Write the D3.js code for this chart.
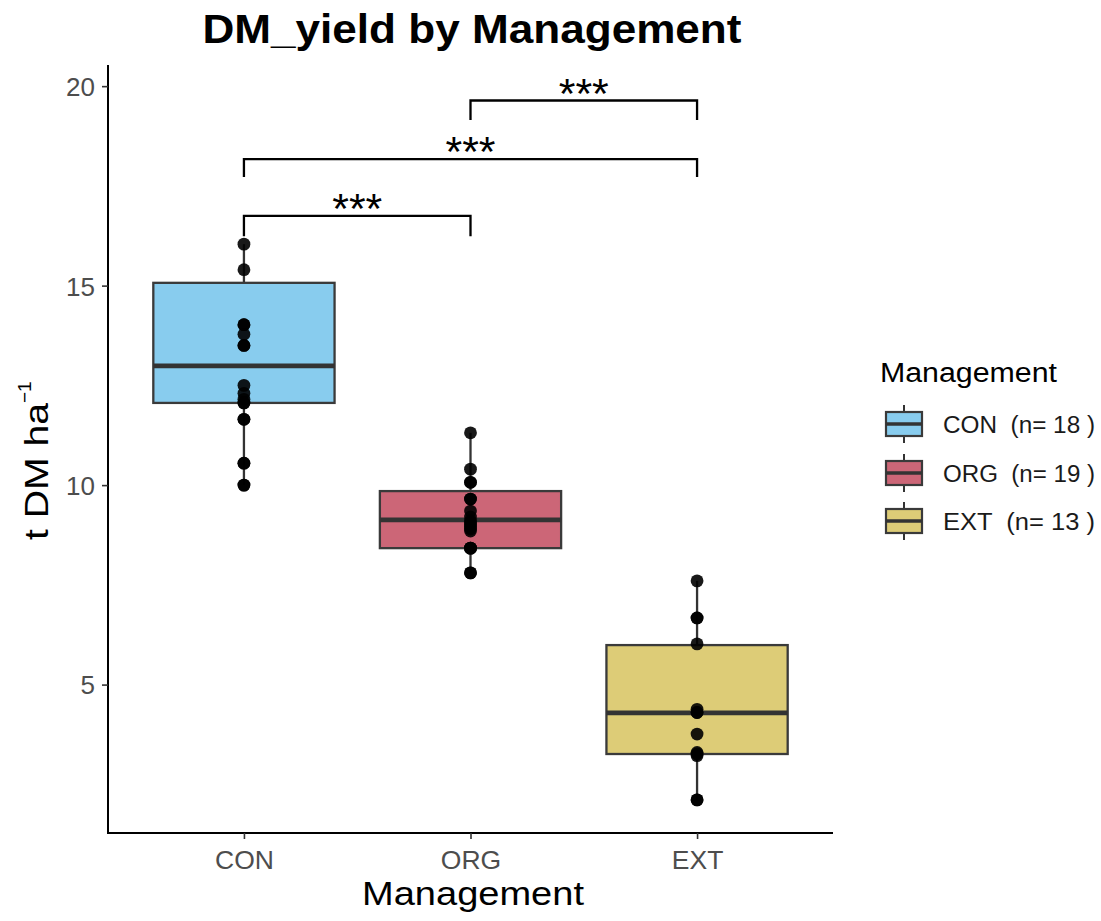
<!DOCTYPE html>
<html>
<head>
<meta charset="utf-8">
<script src="https://cdn.jsdelivr.net/npm/d3@7"></script>
<style>
  html, body { margin: 0; padding: 0; background: #fff; }
  text { font-family: "Liberation Sans", Arial, sans-serif; }
</style>
</head>
<body>
<svg id="chart" width="1101" height="921"></svg>
<script>
// ---------------- data ----------------
const categories = ["CON", "ORG", "EXT"];
const counts = [18, 19, 13];
const colors = ["#88CCEE", "#CC6677", "#DDCC77"];

// box summary: [lowerWhisker, Q1, median, Q3, upperWhisker]
const boxCON = [10.0, 12.06, 12.99, 15.07, 16.04];
const boxORG = [7.80, 8.42, 9.13, 9.85, 11.31];
const boxEXT = [2.11, 3.26, 4.29, 5.99, 7.60];

// individual observations
const pointsCON = [16.04, 15.40, 14.02, 14.02, 13.78, 13.50, 13.50, 12.50, 12.30, 12.15, 12.06, 12.06, 11.65, 11.65, 10.55, 10.55, 10.0, 10.0];
const pointsORG = [11.31, 10.40, 10.07, 10.07, 9.65, 9.65, 9.35, 9.20, 9.10, 9.05, 9.00, 8.95, 8.90, 8.85, 8.42, 8.42, 8.42, 7.80, 7.80];
const pointsEXT = [7.60, 6.67, 6.02, 4.38, 4.30, 4.30, 3.76, 3.30, 3.26, 3.22, 2.11, 2.11, 6.67];

// significance brackets
const bracketFrom = ["CON", "CON", "ORG"];
const bracketTo = ["ORG", "EXT", "EXT"];
const bracketY = [16.75, 18.17, 19.64];
const bracketTipL = [16.24, 17.72, 19.15];
const bracketTipR = [16.24, 17.72, 19.15];
const bracketLabel = ["***", "***", "***"];

const yTicks = [5, 10, 15, 20];

// ---------------- layout ----------------
const svg = d3.select("#chart");
const pLeft = 108, pRight = 833, pTop = 65, pBottom = 833;

const x = d3.scaleLinear().domain([-0.6, categories.length - 0.4]).range([pLeft, pRight]);
const xc = c => x(categories.indexOf(c));
const y = d3.scaleLinear().domain([1.28, 20.53]).range([pBottom, pTop]);

const boxes = [boxCON, boxORG, boxEXT];
const points = [pointsCON, pointsORG, pointsEXT];
const boxHalf = (x(0.4) - x(0));

// axes
const yAxis = d3.axisLeft(y).tickValues(yTicks).tickSize(6).tickPadding(7);
const gy = svg.append("g").attr("transform", `translate(${pLeft},0)`).call(yAxis);
gy.select(".domain").attr("stroke", "#000").attr("stroke-width", 2).attr("d", `M0,${pTop}V${pBottom}`);
gy.selectAll(".tick line").attr("stroke", "#333").attr("stroke-width", 1.6);
gy.selectAll(".tick text").attr("fill", "#4d4d4d").style("font-size", "26px")
  .style("font-family", "Liberation Sans, Arial, sans-serif").attr("dy", "0.36em");

const xAxis = d3.axisBottom(x).tickValues(categories.map((d, i) => i)).tickFormat(i => categories[i]).tickSize(6).tickPadding(11);
const gx = svg.append("g").attr("transform", `translate(0,${pBottom})`).call(xAxis);
gx.select(".domain").attr("stroke", "#000").attr("stroke-width", 2).attr("d", `M${pLeft - 1},0H${pRight}`);
gx.selectAll(".tick line").attr("stroke", "#333").attr("stroke-width", 1.6);
gx.selectAll(".tick text").attr("fill", "#4d4d4d").style("font-size", "26.5px")
  .style("font-family", "Liberation Sans, Arial, sans-serif");

// boxes
const gb = svg.append("g");
categories.forEach((c, i) => {
  const b = boxes[i];
  const cx = x(i);
  gb.append("line").attr("x1", cx).attr("x2", cx).attr("y1", y(b[0])).attr("y2", y(b[1]))
    .attr("stroke", "#333").attr("stroke-width", 2.3);
  gb.append("line").attr("x1", cx).attr("x2", cx).attr("y1", y(b[3])).attr("y2", y(b[4]))
    .attr("stroke", "#333").attr("stroke-width", 2.3);
  gb.append("rect").attr("x", cx - boxHalf).attr("width", 2 * boxHalf)
    .attr("y", y(b[3])).attr("height", y(b[1]) - y(b[3]))
    .attr("fill", colors[i]).attr("stroke", "#3a3a3a").attr("stroke-width", 2.3);
  gb.append("line").attr("x1", cx - boxHalf).attr("x2", cx + boxHalf).attr("y1", y(b[2])).attr("y2", y(b[2]))
    .attr("stroke", "#333").attr("stroke-width", 4.8);
  points[i].forEach(v => {
    gb.append("circle").attr("cx", cx).attr("cy", y(v)).attr("r", 6.4)
      .attr("fill", "#000").attr("fill-opacity", 0.9);
  });
});

// brackets
const gs = svg.append("g");
bracketFrom.forEach((f, i) => {
  const x1 = xc(f), x2 = xc(bracketTo[i]);
  gs.append("path")
    .attr("d", `M${x1},${y(bracketTipL[i])}V${y(bracketY[i])}H${x2}V${y(bracketTipR[i])}`)
    .attr("fill", "none").attr("stroke", "#000").attr("stroke-width", 2.3);
  gs.append("text").attr("x", (x1 + x2) / 2).attr("y", y(bracketY[i]) + 7)
    .attr("text-anchor", "middle").style("font-size", "43px").attr("fill", "#000")
    .attr("textLength", 50).attr("lengthAdjust", "spacingAndGlyphs")
    .text(bracketLabel[i]);
});

// title
svg.append("text").attr("x", 472).attr("y", 43).attr("text-anchor", "middle")
  .style("font-size", "40px").style("font-weight", "bold")
  .attr("textLength", 539).attr("lengthAdjust", "spacingAndGlyphs")
  .text("DM_yield by Management");

// axis titles
svg.append("text").attr("x", 473).attr("y", 905).attr("text-anchor", "middle")
  .style("font-size", "33px").attr("textLength", 222).attr("lengthAdjust", "spacingAndGlyphs")
  .text("Management");

const yt = svg.append("text").attr("transform", `translate(48,540) rotate(-90)`)
  .attr("text-anchor", "start");
yt.append("tspan").style("font-size", "33px").attr("textLength", 137).attr("lengthAdjust", "spacingAndGlyphs").text("t DM ha");
yt.append("tspan").attr("dy", -17).style("font-size", "19px").text("\u22121");

// legend
const lg = svg.append("g");
lg.append("text").attr("x", 880).attr("y", 382).style("font-size", "27px")
  .attr("textLength", 177).attr("lengthAdjust", "spacingAndGlyphs").text("Management");
const keyY = [424, 473, 521];
categories.forEach((c, i) => {
  const cy = keyY[i];
  const kx = 904;
  lg.append("line").attr("x1", kx).attr("x2", kx).attr("y1", cy - 19).attr("y2", cy + 19)
    .attr("stroke", "#333").attr("stroke-width", 2);
  lg.append("rect").attr("x", kx - 18).attr("width", 36).attr("y", cy - 12).attr("height", 24)
    .attr("fill", colors[i]).attr("stroke", "#3a3a3a").attr("stroke-width", 2.2);
  lg.append("line").attr("x1", kx - 18).attr("x2", kx + 18).attr("y1", cy).attr("y2", cy)
    .attr("stroke", "#333").attr("stroke-width", 3.5);
  lg.append("text").attr("x", 943).attr("y", cy + 8.5).style("font-size", "23px")
    .style("white-space", "pre").attr("fill", "#1a1a1a")
    .attr("textLength", 152).attr("lengthAdjust", "spacingAndGlyphs")
    .text(`${c}  (n= ${counts[i]} )`);
});
</script>
</body>
</html>
